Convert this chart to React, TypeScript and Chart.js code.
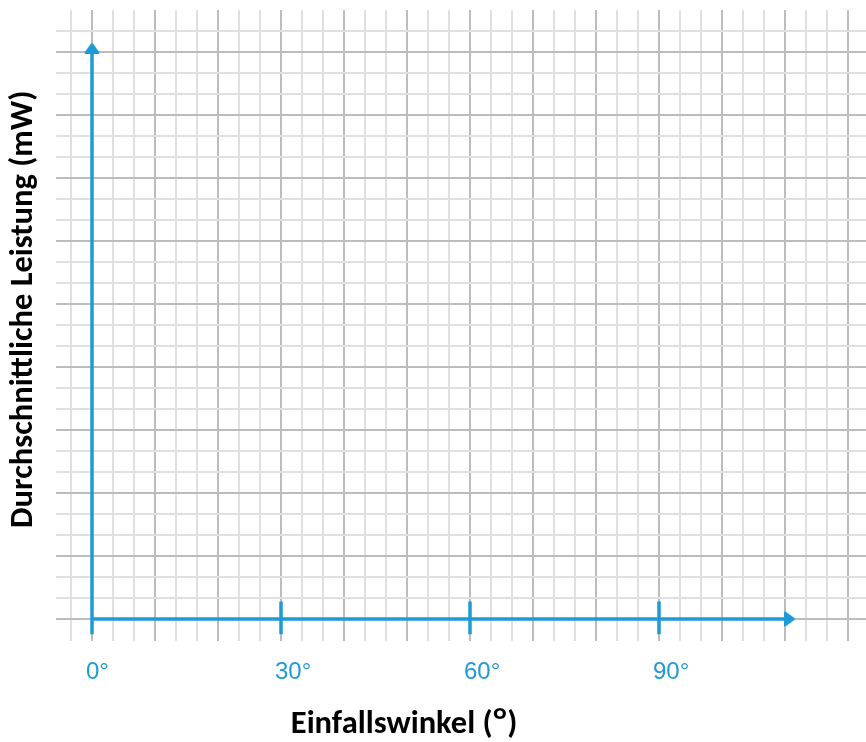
import React, { useEffect, useRef } from "react";
import { Chart, registerables } from "chart.js";

Chart.register(...registerables);

// ---- data ----
const xTickValues = [0, 30, 60, 90];
const xTickLabels = ["0\u00B0", "30\u00B0", "60\u00B0", "90\u00B0"];
const xMin = -5.714;
const xMax = 122.857;
const yMin = -1.048;
const yMax = 29;
const xMinorStep = 10 / 3; // minor grid every 3.33°
const xMajorEvery = 3; // major grid every 10°
const yMajorEvery = 3;
const xGridCount = [-1, 36]; // range of minor x grid lines (in minor steps)
const yGridCount = [0, 28]; // range of minor y grid lines
const xAxisLine = [
  { x: 0, y: 0 },
  { x: 110, y: 0 },
];
const yAxisLine = [
  { x: 0, y: -0.73 },
  { x: 0, y: 26.95 },
];
const tickMarks = [
  { x: 30, y: -0.73 },
  { x: 30, y: 0.83 },
  { x: 30, y: null },
  { x: 60, y: -0.73 },
  { x: 60, y: 0.83 },
  { x: 60, y: null },
  { x: 90, y: -0.73 },
  { x: 90, y: 0.83 },
];
const xArrow = [{ x: 110.75, y: 0 }];
const yArrow = [{ x: 0, y: 27.18 }];

const xTitle = "Einfallswinkel (\u1D3C)";
const yTitle = "Durchschnittliche Leistung (mW)";

const BLUE = "#1e9bd7";
const LIGHT = "#e0e0e0";
const DARK = "#bcbcbc";

function makeArrow(): HTMLCanvasElement {
  const c = document.createElement("canvas");
  c.width = 16;
  c.height = 11;
  const g = c.getContext("2d")!;
  g.fillStyle = BLUE;
  g.strokeStyle = BLUE;
  g.lineWidth = 2;
  g.lineJoin = "round";
  g.beginPath();
  g.moveTo(1.5, 10);
  g.lineTo(8, 1.2);
  g.lineTo(14.5, 10);
  g.closePath();
  g.fill();
  g.stroke();
  return c;
}

export default function App() {
  const ref = useRef<HTMLCanvasElement | null>(null);

  useEffect(() => {
    if (!ref.current) return;
    const arrow = makeArrow();
    const xGrid: number[] = [];
    for (let k = xGridCount[0]; k <= xGridCount[1]; k++) xGrid.push((k * 10) / 3);
    const yGrid: number[] = [];
    for (let k = yGridCount[0]; k <= yGridCount[1]; k++) yGrid.push(k);
    const isMajorX = (v: number) => {
      const k = Math.round(v / xMinorStep);
      return ((k % xMajorEvery) + xMajorEvery) % xMajorEvery === 0;
    };

    const chart = new Chart(ref.current, {
      type: "scatter",
      data: {
        datasets: [
          { data: xAxisLine, showLine: true, borderColor: BLUE, borderWidth: 3.5, pointRadius: 0 },
          { data: yAxisLine, showLine: true, borderColor: BLUE, borderWidth: 3.5, pointRadius: 0 },
          {
            data: tickMarks as any,
            showLine: true,
            spanGaps: false,
            borderColor: BLUE,
            borderWidth: 3.5,
            pointRadius: 0,
          },
          { data: xArrow, pointStyle: arrow as any, pointRadius: 8, rotation: 90 } as any,
          { data: yArrow, pointStyle: arrow as any, pointRadius: 8, rotation: 0 } as any,
        ],
      },
      options: {
        animation: false,
        responsive: true,
        maintainAspectRatio: false,
        events: [],
        layout: { autoPadding: false, padding: { top: 10, left: 0, right: 0, bottom: 0 } },
        plugins: {
          legend: { display: false },
          tooltip: { enabled: false },
        },
        scales: {
          x: {
            type: "linear",
            min: xMin,
            max: xMax,
            afterBuildTicks: (scale: any) => {
              scale.ticks = xGrid.map((v) => ({ value: v }));
            },
            afterFit: (scale: any) => {
              scale.height = 101;
              scale.paddingLeft = 0;
              scale.paddingRight = 0;
            },
            grid: {
              drawTicks: false,
              lineWidth: 2,
              color: (ctx: any) => (ctx.tick && isMajorX(ctx.tick.value) ? DARK : LIGHT),
            },
            border: { display: false },
            ticks: {
              autoSkip: false,
              maxRotation: 0,
              minRotation: 0,
              align: "start",
              labelOffset: -6,
              padding: 17,
              color: BLUE,
              font: { family: "'Liberation Sans', Arial, sans-serif", size: 24, lineHeight: 1.2 },
              callback: (value: any) => {
                const i = xTickValues.findIndex((t) => Math.abs(t - Number(value)) < 1e-6);
                return i >= 0 ? xTickLabels[i] : "";
              },
            },
            title: {
              display: true,
              text: xTitle + "\u2003\u2003\u2003\u2002",
              color: "#000000",
              font: { family: "Carlito, sans-serif", size: 32.5, weight: "bold", lineHeight: 1 },
              padding: { top: 0, bottom: 1 },
            },
          },
          y: {
            type: "linear",
            min: yMin,
            max: yMax,
            afterBuildTicks: (scale: any) => {
              scale.ticks = yGrid.map((v) => ({ value: v }));
            },
            afterFit: (scale: any) => {
              scale.width = 56;
              scale.paddingTop = 0;
              scale.paddingBottom = 0;
            },
            grid: {
              drawTicks: false,
              lineWidth: 2,
              color: (ctx: any) =>
                ctx.tick && Math.round(ctx.tick.value) % yMajorEvery === 0 ? DARK : LIGHT,
            },
            border: { display: false },
            ticks: { display: false },
            title: {
              display: true,
              text: "\u2003" + yTitle,
              color: "#000000",
              font: { family: "Carlito, sans-serif", size: 32.5, weight: "bold", lineHeight: 1 },
              padding: { top: 8, bottom: 0 },
            },
          },
        },
      } as any,
    });
    return () => chart.destroy();
  }, []);

  return (
    <div style={{ position: "absolute", left: 0, top: 0, width: 866, height: 742 }}>
      <canvas ref={ref} />
    </div>
  );
}
